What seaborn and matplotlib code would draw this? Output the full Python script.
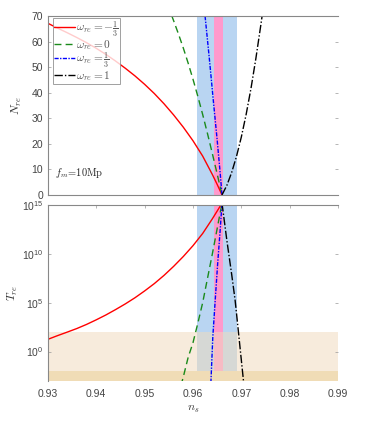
import numpy as np
import matplotlib
matplotlib.use("Agg")
import matplotlib.pyplot as plt
import seaborn as sns

# ---- data ----
labels = [r"$\omega_{re}=-\frac{1}{3}$", r"$\omega_{re}=0$",
          r"$\omega_{re}=\frac{1}{3}$", r"$\omega_{re}=1$"]

# N_re vs n_s
ns_red = [0.930, 0.932, 0.934, 0.936, 0.938, 0.940, 0.942, 0.944, 0.946, 0.948,
          0.950, 0.952, 0.954, 0.956, 0.958, 0.960, 0.962, 0.964, 0.965, 0.966]
N_red = [67.2, 65.3, 63.5, 61.6, 59.6, 57.4, 55.0, 52.4, 49.6, 46.6,
         43.3, 39.7, 35.7, 31.3, 26.5, 21.2, 15.2, 8.0, 4.1, 0.0]
ns_green_N = [0.9556, 0.956, 0.957, 0.958, 0.959, 0.960, 0.961, 0.962,
              0.963, 0.964, 0.965, 0.966]
N_green = [70.2, 68.2, 63.0, 57.5, 51.6, 45.3, 38.6, 31.5, 24.0, 16.2, 8.2, 0.0]
ns_blue_N = [0.9625, 0.9634, 0.9642, 0.9650, 0.9656, 0.9660]
N_blue = [70.0, 53.0, 37.0, 21.5, 9.0, 0.0]
ns_black_N = [0.966, 0.967, 0.968, 0.969, 0.970, 0.971, 0.972, 0.973, 0.974, 0.9743]
N_black = [0.0, 3.7, 8.8, 15.1, 22.7, 31.6, 41.8, 53.4, 66.2, 70.2]

# log10(T_re) vs n_s
logT_red = [1.25, 1.63, 1.99, 2.36, 2.78, 3.25, 3.75, 4.30, 4.88, 5.51,
            6.21, 6.96, 7.80, 8.73, 9.74, 10.85, 12.1, 13.6, 14.4, 15.2]
ns_green_T = [0.9575, 0.958, 0.959, 0.960, 0.961, 0.962, 0.963, 0.964, 0.965, 0.966]
logT_green = [-3.5, -2.6, -0.6, 0.9, 2.9, 5.0, 7.5, 10.0, 12.6, 15.2]
ns_blue_T = [0.9637, 0.9641, 0.9646, 0.9651, 0.9656, 0.9660]
logT_blue = [-3.2, 1.5, 5.3, 9.0, 12.3, 15.2]
ns_black_T = [0.9660, 0.9670, 0.9680, 0.9687, 0.9690, 0.9700, 0.9705]
logT_black = [15.2, 11.4, 7.9, 5.3, 3.9, -0.9, -3.3]

# constraint bands
ns_band_wide = (0.9608, 0.9691)
ns_band_narrow = (0.9644, 0.9663)
T_lims = (1e-3, 1e15)
T_bbn = 1e-2
T_ew = 1e2

colors = ["#ff0000", "#1a8a1a", "#0000ff", "#000000"]
styles = ["-", (0, (5, 3)), (0, (3, 1, 1, 1)), (0, (6, 1.5, 1, 1.5))]

sns.set_style("white")
plt.rcParams["mathtext.fontset"] = "cm"
plt.rcParams["font.family"] = ["Liberation Sans", "DejaVu Sans"]

fig = plt.figure(figsize=(3.74, 4.48), dpi=100)
ax1 = fig.add_axes([0.128, 0.565, 0.776, 0.399])
ax2 = fig.add_axes([0.128, 0.150, 0.776, 0.392])

blue_c = "#b9d5f2"
pink_c = "#ff99cc"

# top panel
ax1.axvspan(*ns_band_wide, color=blue_c, lw=0, zorder=0)
ax1.axvspan(*ns_band_narrow, color=pink_c, lw=0, zorder=0)
series_N = [(ns_red, N_red), (ns_green_N, N_green),
            (ns_blue_N, N_blue), (ns_black_N, N_black)]
for (xs, ys), c, ls, lab in zip(series_N, colors, styles, labels):
    sns.lineplot(x=xs, y=ys, ax=ax1, color=c, linestyle=ls, lw=1.0,
                 sort=False, estimator=None, label=lab)

ax1.set_xlim(0.93, 0.99)
ax1.set_ylim(0, 70)
ax1.set_yticks(range(0, 71, 10))
ax1.set_xticks(np.arange(0.93, 0.991, 0.01))
ax1.tick_params(axis="x", bottom=False, labelbottom=False)
ax1.tick_params(axis="y", direction="in", right=True, left=True, length=2.5,
                width=0.5, colors="#999999", labelcolor="#444444", labelsize=7.5)
ax1.set_ylabel(r"$N_{re}$", fontsize=8.5, color="#333333", labelpad=5)
ax1.text(0.9315, 7.5, r"$f_m\!=\!10\mathrm{Mp}$", fontsize=7.5)
leg = ax1.legend(loc="upper left", bbox_to_anchor=(0.017, 0.99), fontsize=8.2,
                 frameon=True, fancybox=False, borderpad=0.12,
                 labelspacing=-0.1, handlelength=1.8, handletextpad=0.1,
                 borderaxespad=0.0)
leg.get_frame().set_edgecolor("#888888")
leg.get_frame().set_linewidth(0.7)
for t in leg.get_texts():
    t.set_color("#555555")

# bottom panel
ax2.set_yscale("log")
ax2.set_ylim(*T_lims)
frac_bbn = (np.log10(T_bbn) - np.log10(T_lims[0])) / (np.log10(T_lims[1]) - np.log10(T_lims[0]))
ax2.axvspan(*ns_band_wide, ymin=frac_bbn, ymax=1, color=blue_c, lw=0, zorder=0)
ax2.axvspan(*ns_band_narrow, ymin=frac_bbn, ymax=1, color=pink_c, lw=0, zorder=0.1)
ax2.axhspan(T_bbn, T_ew, color="#f0dbbd", alpha=0.53, lw=0, zorder=0.2)
ax2.axhspan(T_lims[0], T_bbn, color="#f0dcb6", lw=0, zorder=0.3)

series_T = [(ns_red, logT_red), (ns_green_T, logT_green),
            (ns_blue_T, logT_blue), (ns_black_T, logT_black)]
for (xs, ys), c, ls in zip(series_T, colors, styles):
    sns.lineplot(x=xs, y=10.0 ** np.array(ys), ax=ax2, color=c, linestyle=ls,
                 lw=1.0, sort=False, estimator=None)

ax2.set_xlim(0.93, 0.99)
ax2.set_ylim(*T_lims)
ax2.set_yticks([1e0, 1e5, 1e10, 1e15])
ax2.set_xticks(np.arange(0.93, 0.991, 0.01))
ax2.set_xticklabels(["0.93", "0.94", "0.95", "0.96", "0.97", "0.98", "0.99"])
ax2.tick_params(axis="x", direction="in", top=True, bottom=False, length=2.5,
                width=0.5, colors="#999999", labelcolor="#444444", labelsize=7.5,
                pad=6)
ax2.tick_params(axis="y", which="both", direction="in", right=True, left=True,
                width=0.5, colors="#999999", labelcolor="#444444", labelsize=7.5)
ax2.tick_params(axis="y", which="major", length=2.5)
ax2.tick_params(axis="y", which="minor", length=1.5)
ax2.set_ylabel(r"$T_{re}$", fontsize=8.5, color="#333333", labelpad=1)
ax2.set_xlabel(r"$n_s$", fontsize=8.5, color="#333333", labelpad=3)
if ax2.get_legend():
    ax2.get_legend().remove()

for ax in (ax1, ax2):
    for side in ("left", "top", "bottom"):
        ax.spines[side].set_color("#888888")
        ax.spines[side].set_linewidth(0.8)
    ax.spines["right"].set_visible(False)
ax2.spines["bottom"].set_visible(False)

fig.savefig("out.png", dpi=100)
